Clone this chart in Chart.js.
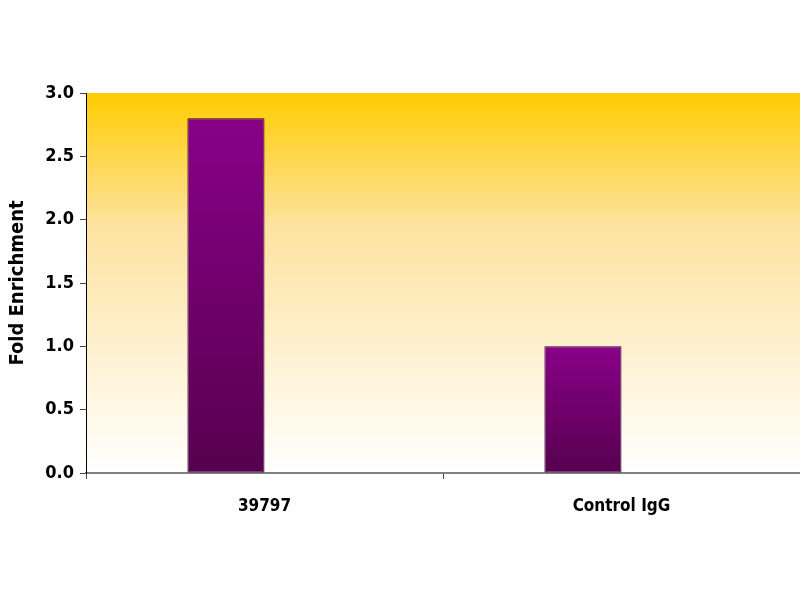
<!DOCTYPE html>
<html>
<head>
<meta charset="utf-8">
<script src="https://cdn.jsdelivr.net/npm/chart.js@4"></script>
<style>
  html, body { margin: 0; padding: 0; background: #fff; }
  #wrap { width: 800px; height: 600px; }
</style>
</head>
<body>
<div id="wrap"><canvas id="chart" width="800" height="600"></canvas></div>
<script>
// dados do gráfico
const categorias = ['39797', 'Control IgG'];
const enriquecimento = [2.8, 1.0];
const serieVazia = [null, null];
const ticksY = [0, 0.5, 1.0, 1.5, 2.0, 2.5, 3.0];

// fundo em degradê dourado -> branco
const fundoPlugin = {
    id: 'fundo',
    beforeDraw(chart) {
        const { ctx, chartArea: a } = chart;
        if (!a) return;
        const g = ctx.createLinearGradient(0, a.top, 0, a.bottom);
        g.addColorStop(0, '#ffcc00');
        g.addColorStop(0.35, '#fde3a0');
        g.addColorStop(1, '#ffffff');
        ctx.save();
        ctx.fillStyle = g;
        ctx.fillRect(a.left, a.top, a.right - a.left, a.bottom - a.top);
        ctx.restore();
    }
};

// degradê roxo de cada barra (do topo da barra até a base)
function corBarra(context) {
    const chart = context.chart;
    const escala = chart.scales.y;
    if (!chart.chartArea || !escala || context.raw == null) return '#7a0070';
    const topo = escala.getPixelForValue(context.raw);
    const base = escala.getPixelForValue(0);
    const g = chart.ctx.createLinearGradient(0, topo, 0, base);
    g.addColorStop(0, '#880088');
    g.addColorStop(1, '#56004e');
    return g;
}

const fonteNarrow = "'DejaVu Sans Condensed', 'Liberation Sans Narrow', 'Arial Narrow', Arial, sans-serif";

new Chart(document.getElementById('chart'), {
    type: 'bar',
    data: {
        labels: categorias,
        datasets: [{
            data: enriquecimento,
            backgroundColor: corBarra,
            borderColor: '#2a0022',
            borderWidth: 1,
            borderSkipped: false
        }, {
            data: serieVazia,
            backgroundColor: 'rgba(0,0,0,0)'
        }]
    },
    plugins: [fundoPlugin],
    options: {
        responsive: false,
        animation: false,
        layout: { padding: { top: 93, right: 0, left: 0, bottom: 0 } },
        categoryPercentage: 0.432,
        barPercentage: 1.0,
        plugins: { legend: { display: false }, tooltip: { enabled: false } },
        scales: {
            x: {
                grid: { display: true, drawOnChartArea: false, offset: true, color: '#444', tickLength: 6 },
                border: { color: '#808080', width: 2 },
                ticks: { color: '#000', padding: 17, font: { family: fonteNarrow, size: 17, weight: 'bold' } },
                afterFit(scale) { scale.height = 127; }
            },
            y: {
                min: 0,
                max: 3,
                afterBuildTicks(scale) { scale.ticks = ticksY.map(v => ({ value: v })); },
                grid: { display: true, drawOnChartArea: false, color: '#444', tickLength: 6 },
                border: { color: '#000', width: 1 },
                ticks: {
                    color: '#000',
                    padding: 6,
                    font: { family: fonteNarrow, size: 18, weight: 'bold' },
                    callback: v => Number(v).toFixed(1)
                },
                title: {
                    display: true,
                    text: 'Fold Enrichment',
                    color: '#000',
                    padding: { top: 6, bottom: 16 },
                    font: { family: fonteNarrow, size: 20, weight: 'bold' }
                },
                afterFit(scale) { scale.width = 86; }
            }
        }
    }
});
</script>
</body>
</html>
